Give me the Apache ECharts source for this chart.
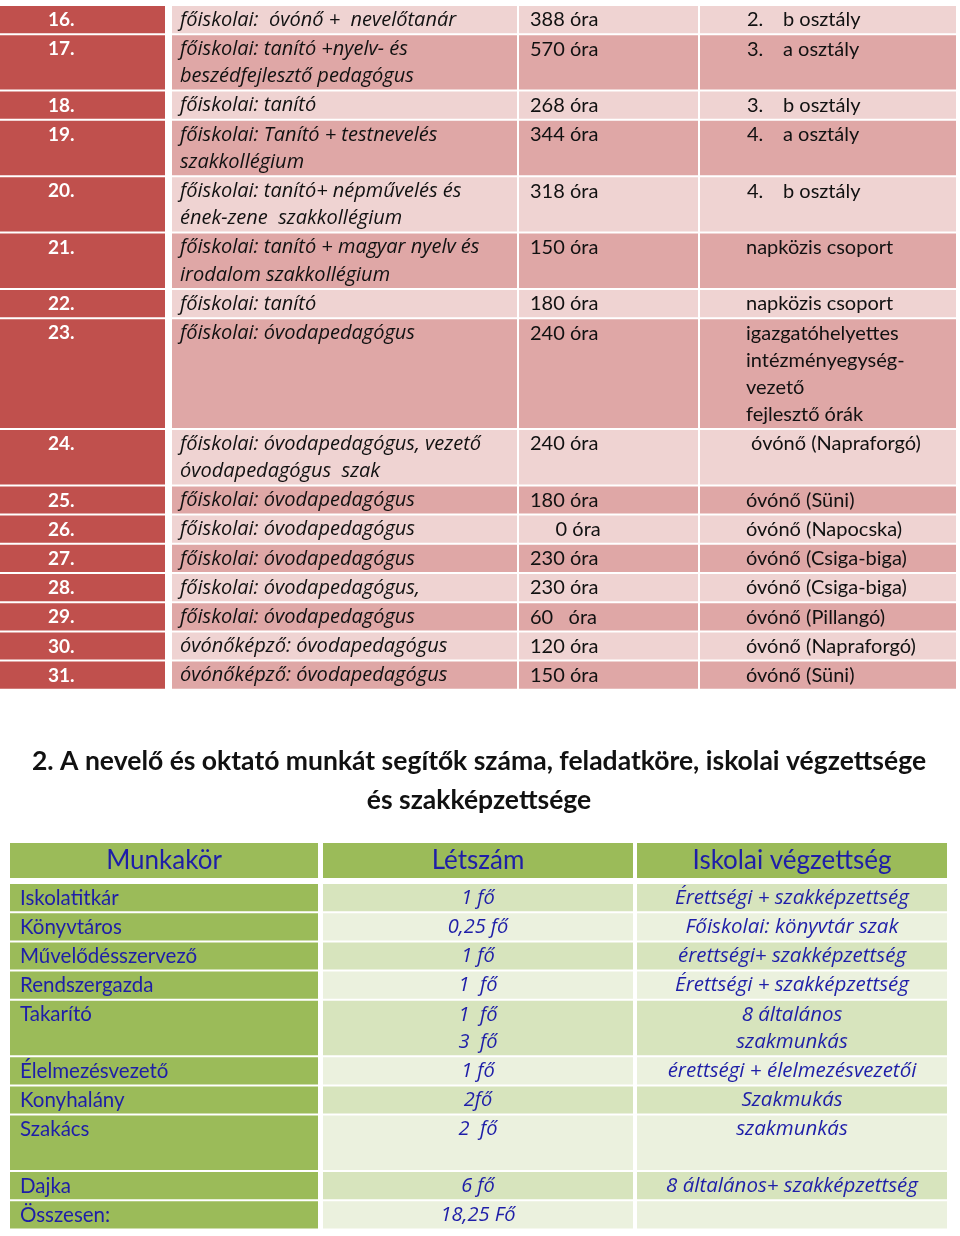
<!DOCTYPE html>
<html>
<head>
<meta charset="utf-8">
<script src="https://cdn.jsdelivr.net/npm/echarts@6/dist/echarts.min.js"></script>
<style>
  html, body { margin: 0; padding: 0; background: #fff; }
  #chart { width: 960px; height: 1236px; }
</style>
</head>
<body>
<div id="chart"></div>
<script>
// --- 1. tábla: pedagógusok (16-31.) ---
const sorszam = ['16.', '17.', '18.', '19.', '20.', '21.', '22.', '23.', '24.', '25.', '26.', '27.', '28.', '29.', '30.', '31.']
const vegzettseg = [
  ['főiskolai:  óvónő +  nevelőtanár'],
  ['főiskolai: tanító +nyelv- és', 'beszédfejlesztő pedagógus'],
  ['főiskolai: tanító'],
  ['főiskolai: Tanító + testnevelés', 'szakkollégium'],
  ['főiskolai: tanító+ népművelés és', 'ének-zene  szakkollégium'],
  ['főiskolai: tanító + magyar nyelv és', 'irodalom szakkollégium'],
  ['főiskolai: tanító'],
  ['főiskolai: óvodapedagógus'],
  ['főiskolai: óvodapedagógus, vezető', 'óvodapedagógus  szak'],
  ['főiskolai: óvodapedagógus'],
  ['főiskolai: óvodapedagógus'],
  ['főiskolai: óvodapedagógus'],
  ['főiskolai: óvodapedagógus,'],
  ['főiskolai: óvodapedagógus'],
  ['óvónőképző: óvodapedagógus'],
  ['óvónőképző: óvodapedagógus'],
]
const orak = ['388 óra', '570 óra', '268 óra', '344 óra', '318 óra', '150 óra', '180 óra', '240 óra',
  '240 óra', '180 óra', '     0 óra', '230 óra', '230 óra', '60   óra', '120 óra', '150 óra']
// tab = számozott sor (sorszám + szöveg)
const beosztas = [
  ['2.\tb osztály'],
  ['3.\ta osztály'],
  ['3.\tb osztály'],
  ['4.\ta osztály'],
  ['4.\tb osztály'],
  ['napközis csoport'],
  ['napközis csoport'],
  ['igazgatóhelyettes', 'intézményegység-', 'vezető', 'fejlesztő órák'],
  [' óvónő (Napraforgó)'],
  ['óvónő (Süni)'],
  ['óvónő (Napocska)'],
  ['óvónő (Csiga-biga)'],
  ['óvónő (Csiga-biga)'],
  ['óvónő (Pillangó)'],
  ['óvónő (Napraforgó)'],
  ['óvónő (Süni)'],
]

// --- cím ---
const cim = ['2. A nevelő és oktató munkát segítők száma, feladatköre, iskolai végzettsége', 'és szakképzettsége']

// --- 2. tábla: segítők ---
const fejlec = ['Munkakör', 'Létszám', 'Iskolai végzettség']
const munkakor = [['Iskolatitkár'], ['Könyvtáros'], ['Művelődésszervező'], ['Rendszergazda'], ['Takarító'],
  ['Élelmezésvezető'], ['Konyhalány'], ['Szakács', ''], ['Dajka'], ['Összesen:']]
const letszam = [['1 fő'], ['0,25 fő'], ['1 fő'], ['1  fő'], ['1  fő', '3  fő'], ['1 fő'], ['2fő'], ['2  fő'], ['6 fő'], ['18,25 Fő']]
const iskolai = [['Érettségi + szakképzettség'], ['Főiskolai: könyvtár szak'], ['érettségi+ szakképzettség'],
  ['Érettségi + szakképzettség'], ['8 általános', 'szakmunkás'], ['érettségi + élelmezésvezetői'], ['Szakmukás'],
  ['szakmunkás'], ['8 általános+ szakképzettség'], ['']]

const FONT = 'Lato, "Noto Sans", sans-serif'
const IFONT = '"Open Sans", "Noto Sans", sans-serif'
const LINE = 27.2
const GAP = 2

const els = []
const rect = (x, y, w, h, fill) => els.push({ type: 'rect', silent: true, shape: { x, y, width: w, height: h }, style: { fill } })
const text = (x, y, t, font, fill, align) =>
  els.push({ type: 'text', silent: true, x, y, style: { text: t, font, fill, textAlign: align || 'left', textVerticalAlign: 'middle' } })

// 1. tábla
const cols1 = [[0, 165], [172, 517], [519, 698], [700, 956]]
let y = 6
sorszam.forEach((n, i) => {
  const lines = Math.max(vegzettseg[i].length, beosztas[i].length, 1)
  const h = lines * LINE
  const bg = i % 2 === 0 ? '#EFD3D2' : '#DFA7A6'
  rect(cols1[0][0], y, cols1[0][1] - cols1[0][0], h, '#C0504D')
  for (let c = 1; c < 4; c++) rect(cols1[c][0], y, cols1[c][1] - cols1[c][0], h, bg)
  text(48, y + 14, n, 'bold 19px ' + FONT, '#fff')
  vegzettseg[i].forEach((s, k) => text(180, y + 14 + k * LINE, s, 'italic 20px ' + IFONT, '#111'))
  text(530, y + 14, orak[i], '20px ' + FONT, '#111')
  beosztas[i].forEach((s, k) => {
    const p = s.split('\t')
    if (p.length > 1) {
      text(747, y + 14 + k * LINE, p[0], '20px ' + FONT, '#111')
      text(783, y + 14 + k * LINE, p[1], '20px ' + FONT, '#111')
    } else {
      text(746, y + 14 + k * LINE, s, '20px ' + FONT, '#111')
    }
  })
  y += h + GAP
})

// cím
text(479, 761, cim[0], 'bold 26.5px ' + FONT, '#111', 'center')
text(479, 800, cim[1], 'bold 26.5px ' + FONT, '#111', 'center')

// 2. tábla
const cols2 = [[10, 318], [323, 633], [637, 947]]
const BLUE = '#1E1EA8'
cols2.forEach((c, j) => {
  rect(c[0], 843, c[1] - c[0], 35, '#9BBB59')
  text((c[0] + c[1]) / 2, 861, fejlec[j], '26px ' + FONT, BLUE, 'center')
})
y = 884
munkakor.forEach((m, i) => {
  const lines = Math.max(m.length, letszam[i].length, iskolai[i].length)
  const h = lines * LINE
  const bg = i % 2 === 0 ? '#D7E4BD' : '#EBF1DE'
  rect(cols2[0][0], y, cols2[0][1] - cols2[0][0], h, '#9BBB59')
  rect(cols2[1][0], y, cols2[1][1] - cols2[1][0], h, bg)
  rect(cols2[2][0], y, cols2[2][1] - cols2[2][0], h, bg)
  m.forEach((s, k) => text(20, y + 14 + k * LINE, s, '20.5px ' + FONT, BLUE))
  letszam[i].forEach((s, k) => text(478, y + 14 + k * LINE, s, 'italic 20px ' + IFONT, BLUE, 'center'))
  iskolai[i].forEach((s, k) => text(792, y + 14 + k * LINE, s, 'italic 20.5px ' + IFONT, BLUE, 'center'))
  y += h + GAP
})

const myChart = echarts.init(document.getElementById('chart'))
myChart.setOption({
  animation: false,
  backgroundColor: '#fff',
  graphic: { elements: els },
})
</script>
</body>
</html>
